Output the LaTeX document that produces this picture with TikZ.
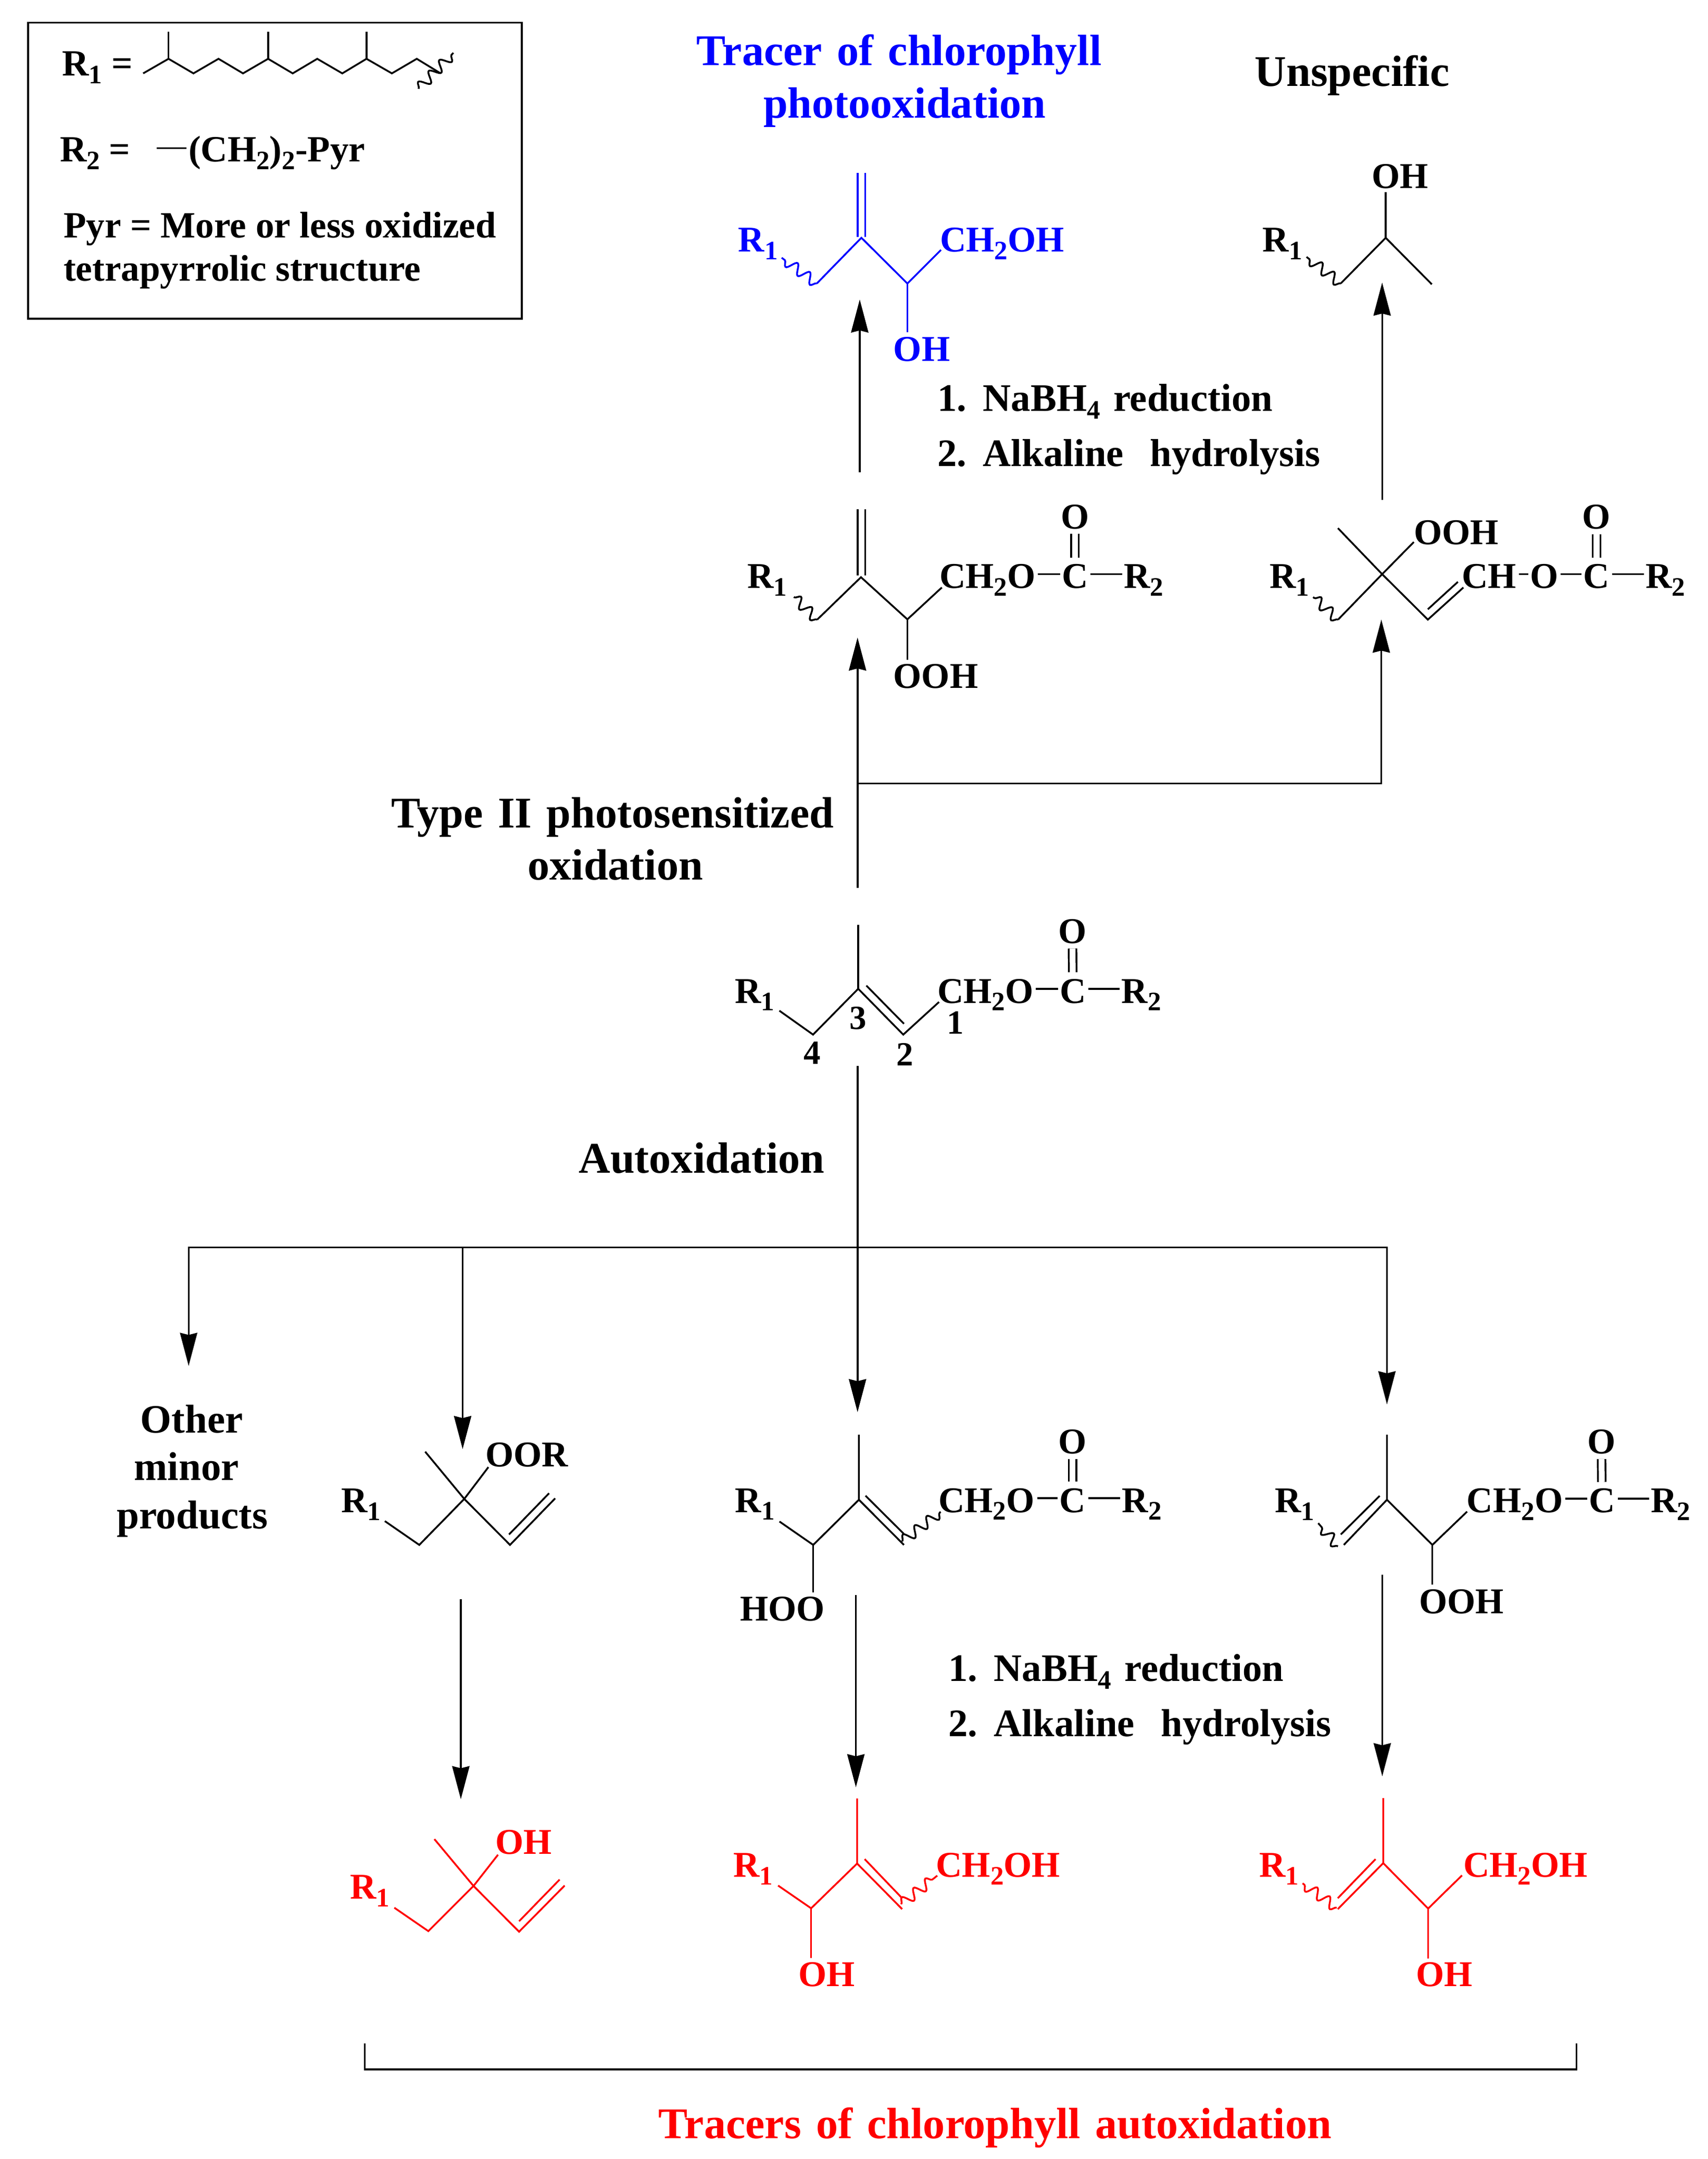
\documentclass[tikz,border=0pt]{standalone}
\usepackage{fontspec}
\setmainfont{Liberation Serif}
\newfontfamily\widefont[WordSpace=1.35]{Liberation Serif}
\usetikzlibrary{positioning}
\usetikzlibrary{arrows.meta}
\usetikzlibrary{decorations.pathmorphing}
\definecolor{TRACERblue}{HTML}{0000FF}
\definecolor{TRACERred}{HTML}{FF0000}
\newcommand{\chemsub}[1]{\raisebox{-3.2pt}{\fontsize{11}{11}\selectfont #1}}
\tikzset{
  legend/.style={font=\fontsize{15.3}{15.3}\selectfont\bfseries,inner sep=0pt,text height=0.41cm,text depth=0pt,anchor=base west},
  chem/.style={font=\fontsize{15}{15}\selectfont\bfseries,inner sep=0pt,text height=0.41cm,text depth=0pt,anchor=base west,xshift=-0.04cm},
  head/.style={font=\widefont\fontsize{18.1}{18.1}\selectfont\bfseries,inner sep=0pt,anchor=base},
  cond/.style={font=\widefont\fontsize{16.1}{16.1}\selectfont\bfseries,inner sep=0pt,anchor=base west},
  minor/.style={font=\fontsize{16.6}{16.6}\selectfont\bfseries,inner sep=0pt,anchor=base},
  locant/.style={font=\fontsize{14}{14}\selectfont\bfseries,inner sep=0pt,anchor=base},
  bond/.style={line width=0.026cm},
  shortbond/.style={bond,shorten <=0.03cm,shorten >=0.02cm},
  twobond/.style={bond,double,double distance=0.085cm},
  cobond/.style={twobond,shorten <=0.03cm,shorten >=0.07cm},
  wavy/.style={bond,decorate,decoration={snake,segment length=0.22cm,amplitude=0.075cm}},
  rxn/.style={line width=0.026cm,-{Stealth[length=0.48cm,width=0.25cm,inset=0.03cm]}}
}
\begin{document}
\begin{tikzpicture}[x=0.02cm,y=-0.02cm]
\useasboundingbox (0,0) rectangle (1240.1,1568);

% Legend
\draw[bond] (20.5,16.5) rectangle (379,231.5);
\node[legend] (legendRone) at (44.8,55.2) {R\chemsub{1} =};
\draw[bond] (104,53.3) -- (122.4,42.7) -- (140.5,53.3) -- (158.7,42.7) -- (176.5,53.3) -- (194.7,42.7) -- (212.6,53.3) -- (230.4,42.7) -- (248.6,53.3) -- (266.2,42.7) -- (284.6,53.3) -- (302.7,42.7) -- (320,53.3);
\draw[bond] (122.4,42.7) -- (122.4,23.2);
\draw[bond] (194.7,42.7) -- (194.7,23.2);
\draw[bond] (266.2,42.7) -- (266.2,23.2);
\draw[wavy] (304,64.5) -- (329.3,38.4);
\node[legend] (legendRtwo) at (43.2,117.3) {R\chemsub{2} =};
\node[legend] (legendChain) at (136.6,117.3) {(CH\chemsub{2})\chemsub{2}-Pyr};
\draw[bond] (113.9,107.5) -- (135.4,107.5);
\node[legend] (legendPyrA) at (45.9,172.8) {Pyr = More or less oxidized};
\node[legend] (legendPyrB) at (45.9,204) {tetrapyrrolic structure};

% Titles
\node[head,text=TRACERblue] (titlePhotoA) at (653,47.5) {Tracer of chlorophyll};
\node[head,text=TRACERblue] (titlePhotoB) at (657,85.5) {photooxidation};
\node[head] (titleUnspec) at (982,62.5) {Unspecific};
\node[head,anchor=base west] (typeA) at (284,601) {Type II photosensitized};
\node[head] (typeB) at (447,639) {oxidation};
\node[head,anchor=base west] (autoLabel) at (420,852) {Autoxidation};
\node[head,anchor=base west,text=TRACERred] (titleAuto) at (478,1553) {Tracers of chlorophyll autoxidation};
\node[minor] (otherA) at (139.2,1040.7) {Other};
\node[minor] (otherB) at (135.5,1075) {minor};
\node[minor] (otherC) at (139.6,1110) {products};

% Conditions
\node[cond] (condTopA) at (680.5,298.5) {1. NaBH\chemsub{4} reduction};
\node[cond] (condTopB) at (680.5,338.5) {2. Alkaline\ \ hydrolysis};
\node[cond] (condLowA) at (688.5,1221) {1. NaBH\chemsub{4} reduction};
\node[cond] (condLowB) at (688.5,1261) {2. Alkaline\ \ hydrolysis};

% Blue diol
\begin{scope}[color=TRACERblue]
\draw[twobond] (625.6,125.7) -- (625.6,172);
\draw[bond] (593.2,205.9) -- (625.6,172.7) -- (659,205.9) -- (683.4,181.5);
\draw[bond] (659,205.9) -- (659,241.4);
\draw[wavy] (593.2,205.9) -- (567.7,187.2);
\node[chem,text=TRACERblue] (blueR) at (537.9,183) {R\chemsub{1}};
\node[chem,text=TRACERblue] (blueCH) at (684.4,183) {CH\chemsub{2}OH};
\node[chem,text=TRACERblue] (blueOH) at (650.6,262.2) {OH};
\end{scope}

% Unspecific alcohol
\draw[bond] (1006.4,139.7) -- (1006.4,172.7);
\draw[bond] (973.7,205.9) -- (1006.4,172.7) -- (1039.9,206.5);
\draw[wavy] (973.7,205.9) -- (948.9,186.6);
\node[chem] (unspecR) at (918.7,183) {R\chemsub{1}};
\node[chem] (unspecOH) at (998,136.6) {OH};

% Allylic hydroperoxide, top middle
\draw[twobond] (625.6,370) -- (625.6,418);
\draw[bond] (593.5,450) -- (625.3,419.2) -- (659,449.8) -- (684,426.7);
\draw[bond] (659,449.8) -- (659,479);
\draw[wavy] (593.5,450) -- (576.6,433.6);
\node[chem] (hydroR) at (544.6,427.3) {R\chemsub{1}};
\node[chem] (hydroOOH) at (650.5,499.8) {OOH};
\node[chem] (hydroCH) at (684,427.3) {CH\chemsub{2}O};
\node[chem,anchor=base] (hydroC) at (782.7,427.3) {C};
\node[chem] (hydroRtwo) at (818,427.3) {R\chemsub{2}};
\node[chem,anchor=base] (hydroO) at (782.7,383.9) {O};
\draw[shortbond] (hydroCH) -- (hydroC);
\draw[shortbond] (hydroC) -- (hydroRtwo);
\draw[cobond] (hydroC) -- (hydroO);

% Tertiary hydroperoxide, top right
\draw[bond] (971.7,383.6) -- (1003.8,417) -- (1037,450) -- (1062.8,426.7);
\draw[bond] (1037,442.5) -- (1058.8,422.6);
\draw[bond] (971.8,450) -- (1003.8,417) -- (1026.8,393.7);
\draw[wavy] (971.8,450) -- (953.7,433.6);
\node[chem] (tertR) at (923.7,427.3) {R\chemsub{1}};
\node[chem] (tertOOH) at (1028.5,395.5) {OOH};
\node[chem] (tertCH) at (1063.4,427.3) {CH};
\node[chem,anchor=base] (tertOx) at (1123.4,427.3) {O};
\node[chem,anchor=base] (tertC) at (1161.5,427.3) {C};
\node[chem] (tertRtwo) at (1196.9,427.3) {R\chemsub{2}};
\node[chem,anchor=base] (tertO) at (1161.5,384) {O};
\draw[shortbond] (tertCH) -- (tertOx);
\draw[shortbond] (tertOx) -- (tertC);
\draw[shortbond] (tertC) -- (tertRtwo);
\draw[cobond] (tertC) -- (tertO);

% Starting phytyl ester
\draw[bond] (623.3,671.5) -- (623.3,718.1);
\draw[bond] (566,734) -- (590.5,751.4) -- (623.3,718.1) -- (656,751.4) -- (682,727.7);
\draw[bond] (629.2,715.8) -- (656.5,743.5);
\node[chem] (startR) at (535.3,728.4) {R\chemsub{1}};
\node[chem] (startCH) at (682.5,728.4) {CH\chemsub{2}O};
\node[chem,anchor=base] (startC) at (781.2,728.4) {C};
\node[chem] (startRtwo) at (816.2,728.4) {R\chemsub{2}};
\node[chem,anchor=base] (startO) at (780.8,685) {O};
\draw[shortbond] (startCH) -- (startC);
\draw[shortbond] (startC) -- (startRtwo);
\draw[cobond] (startC) -- (startO);
\node[locant] (posOne) at (694,751) {1};
\node[locant] (posTwo) at (657.3,774) {2};
\node[locant] (posThree) at (623.3,747.6) {3};
\node[locant] (posFour) at (590,772.8) {4};

% Tertiary peroxide, bottom left
\draw[bond] (308.8,1054.3) -- (337.2,1088.6) -- (370.4,1122) -- (403.2,1088.2);
\draw[bond] (369.7,1114.4) -- (398.8,1084.5);
\draw[bond] (279.5,1104.7) -- (304.5,1122) -- (337.2,1088.6) -- (354.7,1065.5);
\node[chem] (peroxR) at (249.5,1098.6) {R\chemsub{1}};
\node[chem] (peroxOOR) at (354.3,1065.3) {OOR};

% Hydroperoxide, bottom middle
\draw[bond] (623.8,1042) -- (623.8,1089.2) -- (656.5,1122);
\draw[bond] (628.6,1086.3) -- (656.5,1114);
\draw[bond] (566.1,1105) -- (590.6,1122) -- (623.8,1089.2);
\draw[bond] (590.6,1122) -- (590.6,1156.6);
\draw[wavy] (655.2,1119.5) -- (683.2,1098);
\node[chem] (midR) at (535.6,1098.3) {R\chemsub{1}};
\node[chem] (midHOO) at (539.2,1177.2) {HOO};
\node[chem] (midCH) at (683.3,1098.3) {CH\chemsub{2}O};
\node[chem,anchor=base] (midC) at (781,1098.3) {C};
\node[chem] (midRtwo) at (816.6,1098.3) {R\chemsub{2}};
\node[chem,anchor=base] (midO) at (781,1055.9) {O};
\draw[shortbond] (midCH) -- (midC);
\draw[shortbond] (midC) -- (midRtwo);
\draw[cobond] (midC) -- (midO);

% Hydroperoxide, bottom right
\draw[bond] (1007.3,1042) -- (1007.3,1089.2) -- (976,1122);
\draw[bond] (1002,1086.4) -- (973.8,1114.4);
\draw[bond] (1007.3,1089.2) -- (1040.3,1122) -- (1065.5,1097.8);
\draw[bond] (1040.3,1122) -- (1040.3,1151);
\draw[wavy] (971.7,1123) -- (957.4,1106.2);
\node[chem] (rightR) at (927.5,1098.6) {R\chemsub{1}};
\node[chem] (rightOOH) at (1032.4,1171.7) {OOH};
\node[chem] (rightCH) at (1067,1098.6) {CH\chemsub{2}O};
\node[chem,anchor=base] (rightC) at (1165.5,1098.6) {C};
\node[chem] (rightRtwo) at (1200.7,1098.6) {R\chemsub{2}};
\node[chem,anchor=base] (rightO) at (1165,1055.8) {O};
\draw[shortbond] (rightCH) -- (rightC);
\draw[shortbond] (rightC) -- (rightRtwo);
\draw[cobond] (rightC) -- (rightO);

% Red tracers
\begin{scope}[color=TRACERred]
\draw[bond] (315.5,1335.7) -- (343.9,1369.7) -- (377,1402.9) -- (410.1,1369.4);
\draw[bond] (377,1395.3) -- (406.4,1365.1);
\draw[bond] (286.4,1385.5) -- (311.1,1402.5) -- (343.9,1369.7) -- (361.7,1347);
\node[chem,text=TRACERred] (redLeftR) at (256,1379.2) {R\chemsub{1}};
\node[chem,text=TRACERred] (redLeftOH) at (361.5,1346.7) {OH};

\draw[bond] (622.5,1306.1) -- (622.5,1353.4) -- (655.2,1386.5);
\draw[bond] (628,1350.2) -- (655.2,1378.6);
\draw[bond] (565.1,1369.4) -- (589.1,1385.9) -- (622.5,1353.4);
\draw[bond] (589.1,1385.9) -- (589.1,1422);
\draw[wavy] (654.5,1383) -- (680.7,1362.2);
\node[chem,text=TRACERred] (redMidR) at (534.2,1363.2) {R\chemsub{1}};
\node[chem,text=TRACERred] (redMidCH) at (681.5,1363.2) {CH\chemsub{2}OH};
\node[chem,text=TRACERred] (redMidOH) at (581.5,1442.6) {OH};

\draw[bond] (1004.6,1305.8) -- (1004.6,1353.1) -- (971.6,1386.5);
\draw[bond] (999,1350.2) -- (971.6,1378.6);
\draw[bond] (1004.6,1353.1) -- (1037.2,1386.1) -- (1061.8,1362);
\draw[bond] (1037.2,1386.1) -- (1037.2,1422.3);
\draw[wavy] (970.8,1385.5) -- (946,1367.8);
\node[chem,text=TRACERred] (redRightR) at (916.3,1363.2) {R\chemsub{1}};
\node[chem,text=TRACERred] (redRightCH) at (1064.4,1363.2) {CH\chemsub{2}OH};
\node[chem,text=TRACERred] (redRightOH) at (1030,1442.6) {OH};
\end{scope}

% Reaction arrows
\coordinate (typeTail) at (622.8,645);
\coordinate (typeFork) at (622.8,569);
\coordinate (typeTip) at (622.8,463);
\coordinate (tertTip) at (1003.2,450);
\coordinate (blueTail) at (624.4,343);
\coordinate (blueTip) at (624.4,217.5);
\coordinate (unspecTail) at (1003.8,363);
\coordinate (unspecTip) at (1003.8,205.2);
\coordinate (autoTail) at (622.8,774);
\coordinate (autoTip) at (622.8,1025.6);
\coordinate (autoHub) at (622.8,906);
\coordinate (otherTip) at (137,992);
\coordinate (peroxTop) at (336,906);
\coordinate (peroxTip) at (336,1052.4);
\coordinate (rightTip) at (1007.3,1019.9);
\coordinate (peroxTail) at (334.7,1161.6);
\coordinate (peroxEnd) at (334.7,1306.7);
\coordinate (midTail) at (621.6,1158.5);
\coordinate (midEnd) at (621.6,1298);
\coordinate (rightTail) at (1003.9,1143.8);
\coordinate (rightEnd) at (1003.9,1290);

\draw[rxn] (typeTail) -- (typeTip);
\draw[rxn] (typeFork) -| (tertTip);
\draw[rxn] (blueTail) -- (blueTip);
\draw[rxn] (unspecTail) -- (unspecTip);
\draw[rxn] (autoTail) -- (autoTip);
\draw[rxn] (autoHub) -| (rightTip);
\draw[rxn] (autoHub) -| (otherTip);
\draw[rxn] (peroxTop) -- (peroxTip);
\draw[rxn] (peroxTail) -- (peroxEnd);
\draw[rxn] (midTail) -- (midEnd);
\draw[rxn] (rightTail) -- (rightEnd);

% Bracket
\coordinate (bracketL) at (265,1484);
\coordinate (bracketR) at (1145,1484);
\draw[bond] (bracketL) -- (265,1503) -- (1145,1503) -- (bracketR);

\end{tikzpicture}
\end{document}
